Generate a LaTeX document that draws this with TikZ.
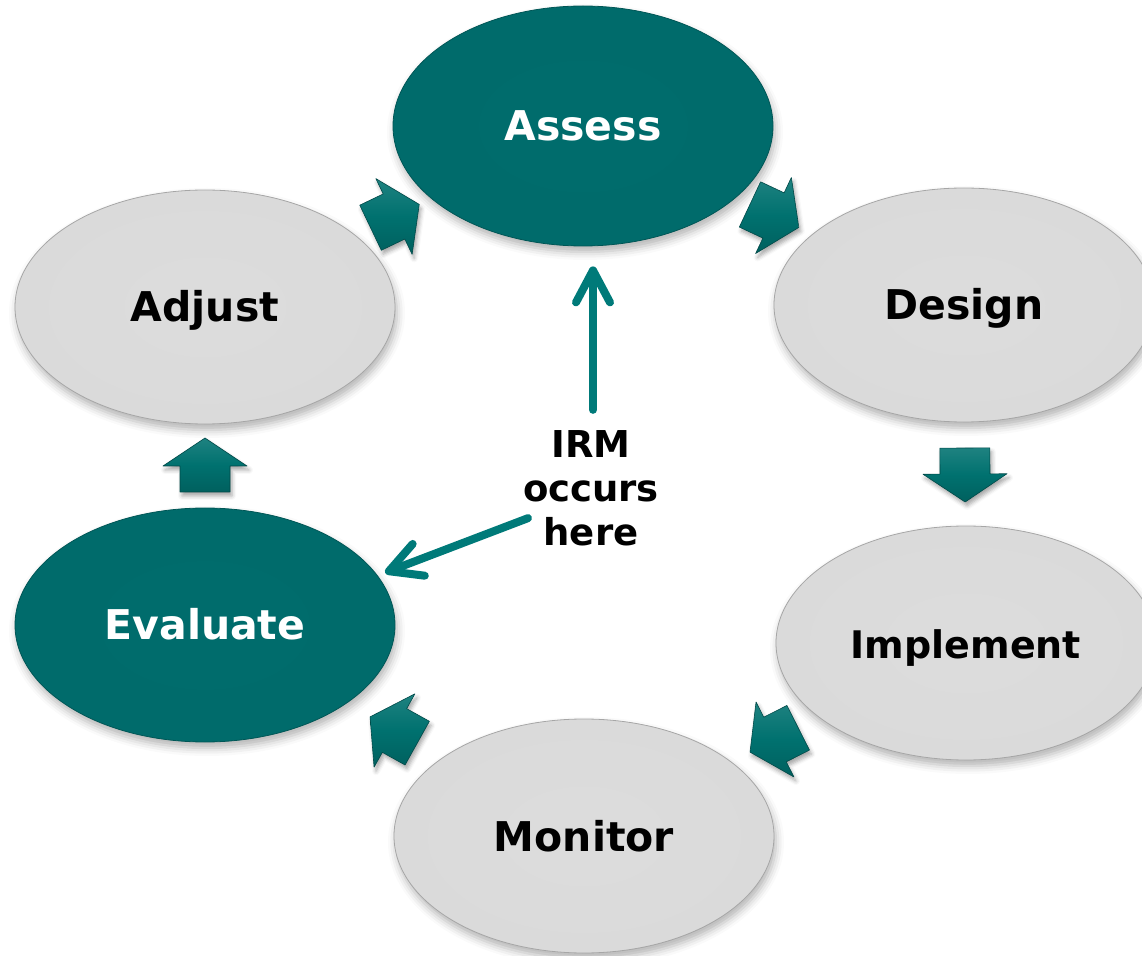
\documentclass[tikz,border=0pt]{standalone}
\usepackage{fontspec}
\setmainfont{DejaVu Sans}
\usetikzlibrary{shapes.geometric,arrows.meta,calc,shadows.blur}

\definecolor{tealdeep}{HTML}{006B6B}
\definecolor{tealline}{HTML}{007A79}
\definecolor{tealblock}{HTML}{00716F}

% soft bevelled fills for the stage ellipses
\pgfdeclareradialshading{greyball}{\pgfpoint{0bp}{0bp}}{%
  rgb(0bp)=(0.865,0.865,0.865); rgb(38bp)=(0.85,0.85,0.85);
  rgb(46bp)=(0.81,0.81,0.81); rgb(50bp)=(0.66,0.66,0.66)}
\pgfdeclareradialshading{tealball}{\pgfpoint{0bp}{0bp}}{%
  rgb(0bp)=(0,0.425,0.425); rgb(40bp)=(0,0.415,0.415);
  rgb(47bp)=(0,0.37,0.37); rgb(50bp)=(0,0.30,0.30)}

% block arrow half way between two stages, pointing from #1 to #2
\newcommand\cyclearrow[2]{%
  \path let \p1=(#1.center), \p2=(#2.center),
            \n1={atan2(\y2-\y1,\x2-\x1)} in
    pic[rotate=\n1] at ($(#1.center)!0.5!(#2.center)$) {blockarrow};}

\begin{document}
\begin{tikzpicture}[x=0.5pt,y=0.5pt,
  stage/.style={ellipse, inner sep=0pt, minimum width=190pt, minimum height=117pt,
    text height=15pt, text depth=0pt,
    font=\fontsize{20.5}{24}\selectfont\bfseries,
    blur shadow={shadow xshift=1pt, shadow yshift=-3pt,
                 shadow blur radius=4pt, shadow opacity=30}},
  greystage/.style={stage, shading=greyball, draw=black!35, line width=0.4pt, text=black},
  tealstage/.style={stage, shading=tealball, draw=tealdeep!80!black, line width=0.4pt, text=white},
  pointer/.style={draw=tealline, line width=4pt, line cap=round, line join=round,
    -{Straight Barb[length=16pt,width=17pt,round]}},
  blockarrow/.pic={
    \path[top color=tealblock!88!white, bottom color=tealblock!85!black,
          middle color=tealblock,
          draw=tealblock!65!black, line width=0.3pt, line join=round,
          blur shadow={shadow xshift=1pt, shadow yshift=-2pt,
                       shadow blur radius=2pt, shadow opacity=35}]
      (-26,-25) -- (0,-25) -- (0,-42) -- (28,0) -- (0,42) -- (0,25) -- (-26,25) -- cycle;
  }
]
\useasboundingbox (0,0) rectangle (1142,955);
\clip (0,0) rectangle (1142,955);

% the six stages of the cycle
\node[tealstage, minimum height=120pt] (assess) at (583,829) {Assess};
\node[greystage] (design) at (964,650) {Design};
\node[greystage, font=\fontsize{19}{23}\selectfont\bfseries] (implement) at (966,312) {Implement};
\node[greystage] (monitor) at (584,119) {Monitor};
\node[tealstage] (evaluate) at (205,330) {Evaluate};
\node[greystage] (adjust) at (205,648) {Adjust};

% block arrows between consecutive stages
\cyclearrow{adjust}{assess}
\cyclearrow{assess}{design}
\cyclearrow{design}{implement}
\cyclearrow{implement}{monitor}
\cyclearrow{monitor}{evaluate}
\cyclearrow{evaluate}{adjust}

% callout in the middle
\node[align=center, inner sep=0pt, font=\fontsize{18.5}{22}\selectfont\bfseries]
  (irm) at (591,467) {IRM\\occurs\\here};
\coordinate (irmtail) at ([xshift=-31.5pt,yshift=14pt]irm.south);

\draw[pointer] ([xshift=1pt,yshift=10pt]irm.north)
  -- ([xshift=1pt,yshift=-10pt]irm.north |- assess.south);
\draw[pointer, shorten >=4pt] (irmtail) -- (evaluate.16);
\end{tikzpicture}
\end{document}
